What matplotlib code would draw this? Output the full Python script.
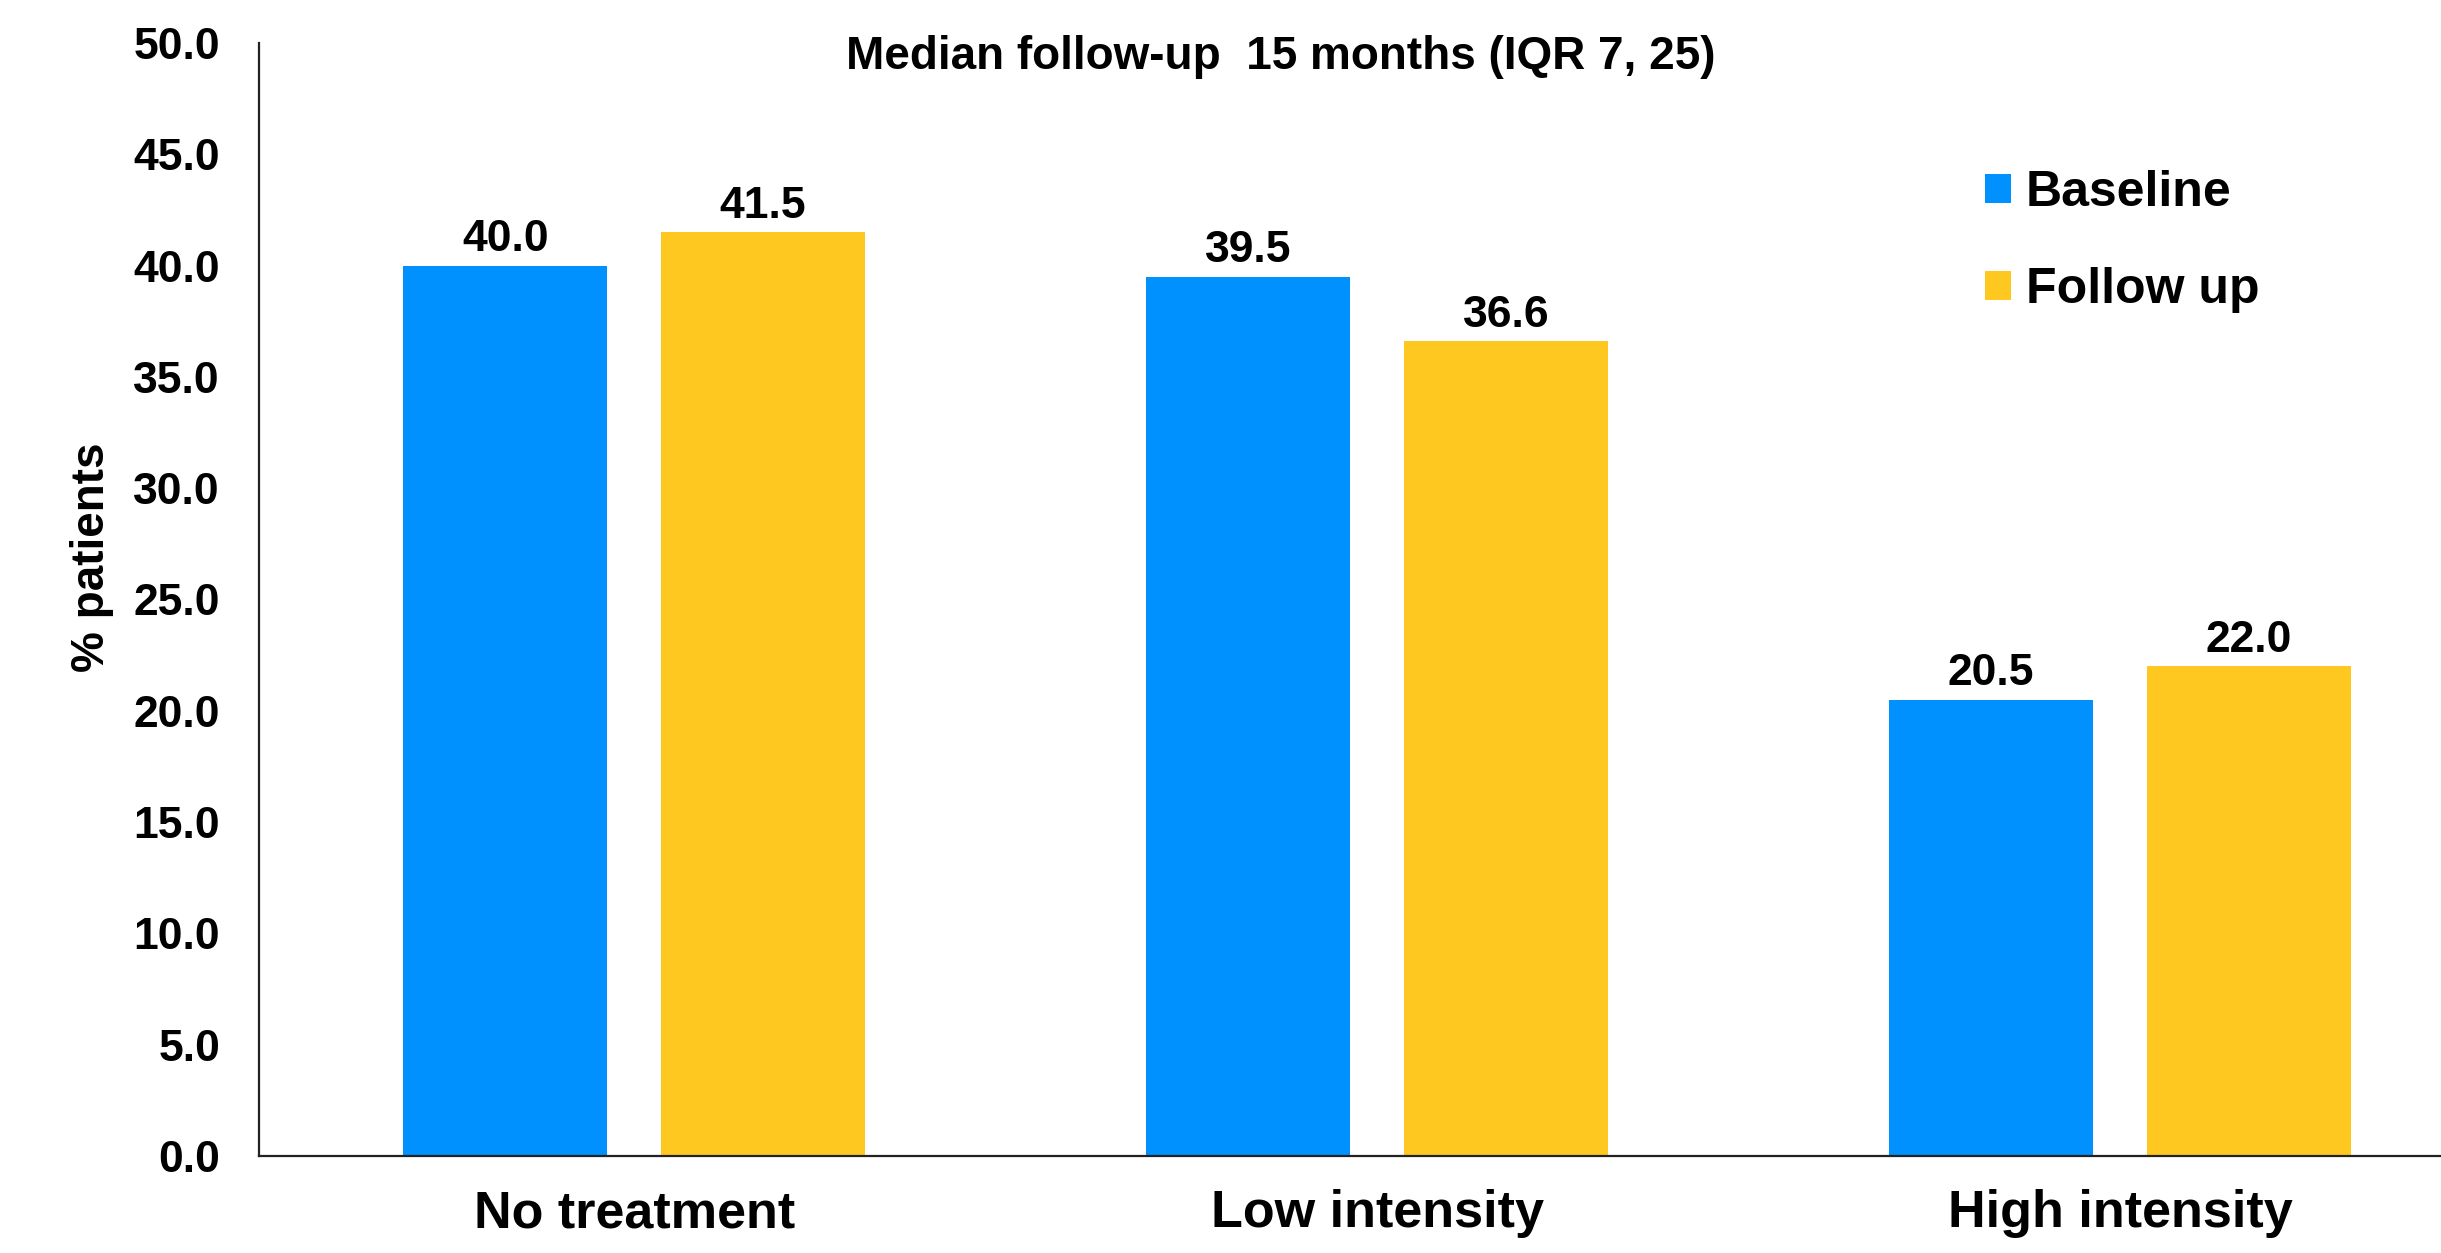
import matplotlib

matplotlib.use("Agg")
import matplotlib.pyplot as plt
import numpy as np
from matplotlib.patches import Patch

categories = ["No treatment", "Low intensity", "High intensity"]
baseline = [40.0, 39.5, 20.5]
follow_up = [41.5, 36.6, 22.0]
series_names = ["Baseline", "Follow up"]
yticks = [0, 5, 10, 15, 20, 25, 30, 35, 40, 45, 50]

BLUE = "#0091FF"
YELLOW = "#FFC821"

plt.rcParams["font.family"] = ["Liberation Sans", "DejaVu Sans"]
plt.rcParams["font.weight"] = "bold"

fig = plt.figure(figsize=(24.41, 12.53), dpi=100)
ax = fig.add_axes([0.1061, 0.0774, 0.8939, 0.8883])

x = np.arange(len(categories))
width = 0.275
offset = 0.1736
bars_b = ax.bar(x - offset, baseline, width, color=BLUE, label=series_names[0])
bars_f = ax.bar(x + offset, follow_up, width, color=YELLOW, label=series_names[1])

# value labels above each bar
for bars, vals in ((bars_b, baseline), (bars_f, follow_up)):
    for rect, v in zip(bars, vals):
        ax.annotate(f"{v:.1f}", xy=(rect.get_x() + rect.get_width() / 2, v),
                    xytext=(0, 4), textcoords="offset points",
                    ha="center", va="bottom", fontsize=32, fontweight="bold")

ax.set_xlim(-0.505, 2.432)
ax.set_ylim(0, 50)
ax.set_yticks(yticks)
ax.set_yticklabels([f"{t:.1f}" for t in yticks], fontsize=32, fontweight="bold")
ax.set_xticks(x)
ax.set_xticklabels(categories, fontsize=37.5, fontweight="bold")
ax.tick_params(axis="y", length=0, pad=28)
ax.tick_params(axis="x", length=0, pad=24)

for side in ("top", "right"):
    ax.spines[side].set_visible(False)
for side in ("left", "bottom"):
    ax.spines[side].set_linewidth(1.6)
    ax.spines[side].set_color("#222222")

fig.text(0.0377, 1 - 557 / 1253, "% patients", rotation=90, ha="center",
         va="center", fontsize=33, fontweight="bold")
fig.text(1281 / 2441, 1 - 69 / 1253, "Median follow-up  15 months (IQR 7, 25)",
         ha="center", va="baseline", fontsize=33, fontweight="bold")

handles = [Patch(facecolor=BLUE), Patch(facecolor=YELLOW)]
ax.legend(handles, series_names, loc="upper left",
          bbox_to_anchor=(1985 / 2441, 1 - 170 / 1253),
          bbox_transform=fig.transFigure, frameon=False, borderpad=0,
          borderaxespad=0, handlelength=0.52, handleheight=0.52,
          handletextpad=0.3, labelspacing=1.02,
          prop={"size": 36, "weight": "bold"})

fig.savefig("out.png", dpi=100, facecolor="white")
